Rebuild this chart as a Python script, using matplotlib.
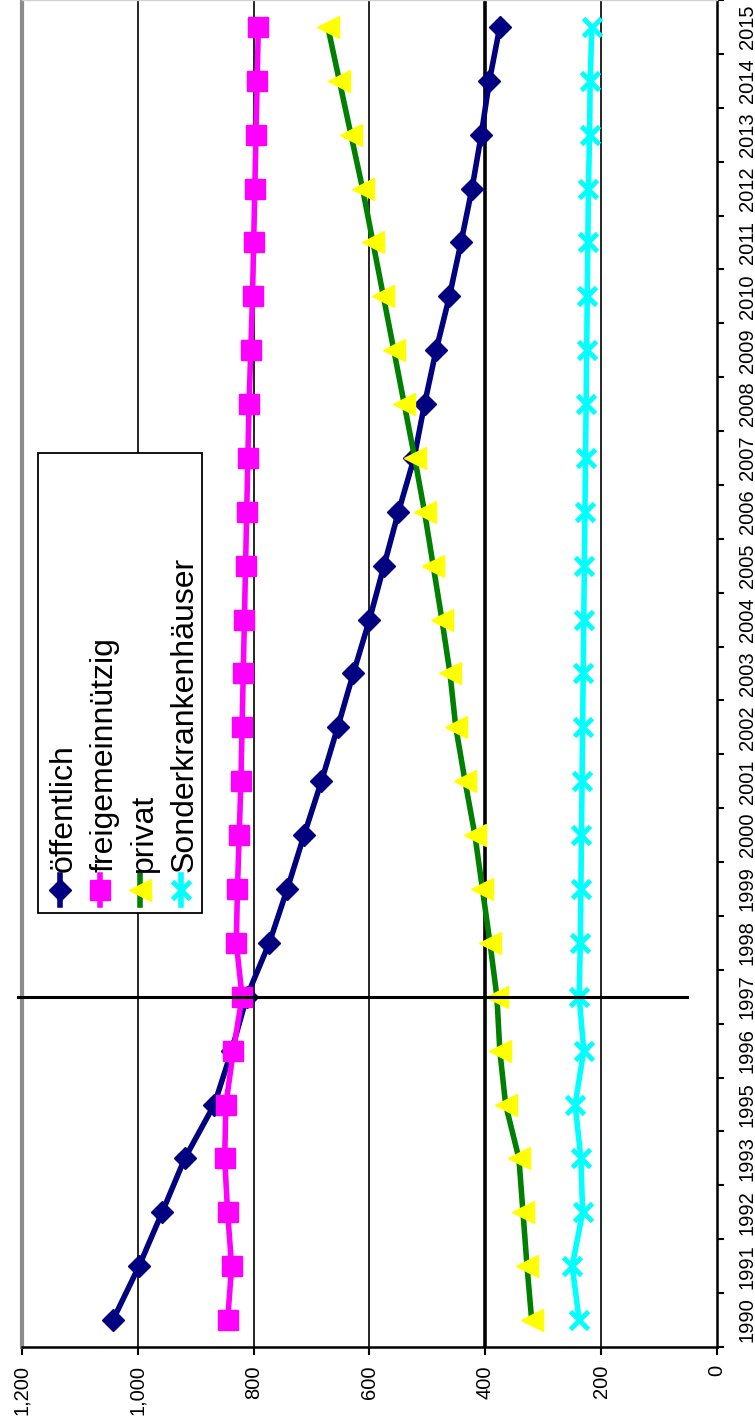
import matplotlib
matplotlib.use('Agg')
import matplotlib.pyplot as plt
from matplotlib.patches import Rectangle
from matplotlib.lines import Line2D
from matplotlib.transforms import Affine2D

years = ['1990', '1991', '1992', '1993', '1995', '1996', '1997', '1998', '1999',
         '2000', '2001', '2002', '2003', '2004', '2005', '2006', '2007', '2008',
         '2009', '2010', '2011', '2012', '2013', '2014', '2015']
oeffentlich = [1043, 998, 958, 919, 868, 838, 812, 773, 742, 713, 683, 655, 628,
               600, 575, 550, 523, 505, 485, 462, 442, 423, 407, 393, 375]
freigemeinnuetzig = [845, 838, 845, 850, 848, 835, 820, 830, 828, 825, 822, 820,
                     818, 816, 814, 812, 810, 808, 805, 802, 800, 798, 796, 794, 792]
privat = [320, 328, 335, 342, 365, 375, 380, 392, 405, 418, 435, 451, 461, 475,
          490, 505, 522, 540, 558, 576, 594, 612, 632, 652, 672]
sonder = [238, 250, 232, 235, 245, 230, 238, 236, 235, 234, 233, 232, 231, 230,
          229, 228, 227, 226, 225, 224, 223, 222, 220, 219, 216]
series_names = ['öffentlich', 'freigemeinnützig', 'privat', 'Sonderkrankenhäuser']
marker_year = '1997'
value_ticks = [0, 200, 400, 600, 800, 1000, 1200]

plt.rcParams['font.family'] = ['Liberation Sans', 'DejaVu Sans']
W, H = 755, 1425
fig = plt.figure(figsize=(W / 100, H / 100), dpi=100)
fig.patch.set_facecolor('white')
ax = fig.add_axes([22 / W, 78 / H, 695 / W, 1347 / H])
pos = list(range(len(years)))
ax.set_xlim(1200, 0)
ax.set_ylim(-0.5, len(years) - 0.5)

# gridlines
for v in value_ticks[1:-1]:
    ax.axvline(v, color='black', lw=2.6 if v == 400 else 1.2, zorder=1)

ax.spines['left'].set_color('#8c8c8c'); ax.spines['left'].set_linewidth(3)
ax.spines['top'].set_color('#d0d0d0'); ax.spines['top'].set_linewidth(1)
for s in ['right', 'bottom']:
    ax.spines[s].set_color('black'); ax.spines[s].set_linewidth(1.8)

# category axis on the right
ax.yaxis.tick_right()
ax.set_yticks(pos)
ax.set_yticklabels(years, rotation=90, va='center', ha='left')
ax.set_yticks([i - 0.5 for i in range(len(years) + 1)], minor=True)
ax.tick_params(axis='y', which='major', length=0, pad=15, labelsize=14.5,
               left=False, right=True)
ax.tick_params(axis='y', which='minor', length=5, width=1.5, direction='out',
               left=False, right=True)

# value axis at the bottom
ax.set_xticks(value_ticks)
ax.set_xticklabels([f'{v:,}' for v in value_ticks], rotation=90, va='top', ha='center')
ax.tick_params(axis='x', which='major', length=6, width=1.5, direction='out',
               pad=7, labelsize=14.5)

styles = [
    dict(color='#000080', marker='D', ms=11, mfc='#000080', mec='#000080'),
    dict(color='#FF00FF', marker='s', ms=15, mfc='#FF00FF', mec='#FF00FF'),
    dict(color='#008000', marker='<', ms=16, mfc='#FFFF00', mec='#FFFF00'),
    dict(color='#00FFFF', marker='x', ms=13, mfc='#00FFFF', mec='#00FFFF', mew=3.5),
]
data = [oeffentlich, freigemeinnuetzig, privat, sonder]
for vals, st in zip(data, styles):
    ax.plot(vals, pos, lw=4, zorder=3, clip_on=False, **st)

idx = years.index(marker_year)
ax.axhline(idx, xmin=-0.006, xmax=0.957, color='black', lw=2.2, clip_on=False, zorder=4)

# legend (drawn manually, rotated)
px = Affine2D().scale(1 / W, -1 / H).translate(0, 1) + fig.transFigure
fig.patches.append(Rectangle((38, 453), 164, 460, transform=px, fill=True,
                             facecolor='white', edgecolor='black', lw=1.3, zorder=5))
baselines = [72, 112, 152, 193]
for name, st, xb in zip(series_names, styles, baselines):
    xs = xb - 12
    ln = Line2D([xs, xs], [905, 875], transform=px, lw=4, color=st['color'],
                marker=None, zorder=6)
    fig.lines.append(ln)
    mk = Line2D([xs], [890], transform=px, lw=0, marker=st['marker'], ms=st['ms'],
                mfc=st['mfc'], mec=st['mec'], mew=st.get('mew', 1), zorder=7)
    fig.lines.append(mk)
    fig.text(xb / W, 1 - 872 / H, name, rotation=90, rotation_mode='anchor',
             ha='left', va='baseline', fontsize=23, color='black', zorder=8)

fig.savefig('out.png', dpi=100, facecolor='white')
